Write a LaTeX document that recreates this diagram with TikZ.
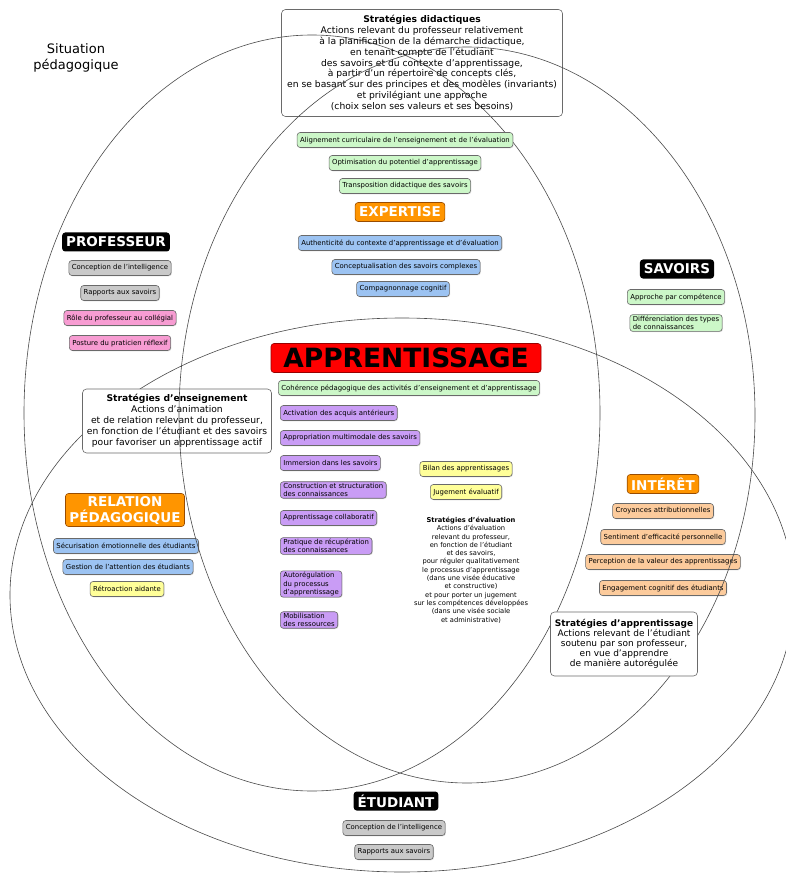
\documentclass[tikz,border=0pt]{standalone}
\usepackage{fontspec}
\setmainfont{DejaVu Sans}
\usetikzlibrary{shadows}

\definecolor{bord}{HTML}{6A6A6A}
\definecolor{ligne}{HTML}{4A4A4A}
\definecolor{vertclair}{HTML}{CCF7C8}
\definecolor{bleuclair}{HTML}{9CC3F2}
\definecolor{grisclair}{HTML}{C9C9C9}
\definecolor{roseclair}{HTML}{F79CD2}
\definecolor{violetclair}{HTML}{C99CF5}
\definecolor{jauneclair}{HTML}{FFFF99}
\definecolor{peche}{HTML}{FCCB9C}
\definecolor{orangevif}{HTML}{FF9500}

\tikzset{
  boite/.style={draw=bord, rounded corners=3pt, line width=0.6pt,
    font=\fontsize{6.9}{8.2}\selectfont, inner xsep=3pt, inner ysep=1.5pt,
    minimum height=15pt, drop shadow={opacity=0.25, shadow xshift=0.8pt, shadow yshift=-0.8pt}},
  vert/.style={boite, fill=vertclair},
  bleu/.style={boite, fill=bleuclair},
  gris/.style={boite, fill=grisclair},
  rose/.style={boite, fill=roseclair},
  violet/.style={boite, fill=violetclair, anchor=west, align=left},
  jaune/.style={boite, fill=jauneclair},
  peche/.style={boite, fill=peche},
  entete/.style={rounded corners=3pt, fill=black, text=white,
    font=\fontsize{13.5}{16}\selectfont\bfseries, inner xsep=4pt, inner ysep=2.5pt,
    minimum height=19pt},
  pole/.style={entete, fill=orangevif, draw=orange!60!black, line width=0.6pt, align=center},
  strategie/.style={draw=bord, rounded corners=4pt, line width=0.6pt, align=center,
    font=\fontsize{9.2}{10.9}\selectfont, inner sep=2pt},
  cercle/.style={draw=ligne, line width=0.6pt}
}

\begin{document}
\begin{tikzpicture}[x=1pt,y=-1pt]
\useasboundingbox (0,0) rectangle (785,874);

% Ensembles
\draw[cercle] (312,413) ellipse [x radius=288, y radius=378];
\draw[cercle] (402,595) ellipse [x radius=392, y radius=277];

\node[font=\fontsize{13}{16}\selectfont, align=center] (situation) at (76,58) {Situation\\pédagogique};

% Strategies
\node[strategie, minimum width=281pt, minimum height=107pt] (didactique) at (422,63)
  {\textbf{Stratégies didactiques}\\
   Actions relevant du professeur relativement\\
   à la planification de la démarche didactique,\\
   en tenant compte de l’étudiant\\
   des savoirs et du contexte d’apprentissage,\\
   à partir d’un répertoire de concepts clés,\\
   en se basant sur des principes et des modèles (invariants)\\
   et privilégiant une approche\\
   (choix selon ses valeurs et ses besoins)};
\node[strategie, fill=white, minimum width=189pt, minimum height=64pt] (enseignement) at (177,421)
  {\textbf{Stratégies d’enseignement}\\
   Actions d’animation\\
   et de relation relevant du professeur,\\
   en fonction de l’étudiant et des savoirs\\
   pour favoriser un apprentissage actif};

% Professeur
\node[entete] (professeur) at (116,242) {PROFESSEUR};
\node[gris] (prof1) at (120,268) {Conception de l’intelligence};
\node[gris] (prof2) at (120,293) {Rapports aux savoirs};
\node[rose] (prof3) at (120,318) {Rôle du professeur au collégial};
\node[rose] (prof4) at (120,343) {Posture du praticien réflexif};

% Savoirs
\node[entete] (savoirs) at (677,269) {SAVOIRS};
\node[vert] (sav1) at (676,297) {Approche par compétence};
\node[vert, align=left] (sav2) at (676,323) {Différenciation des types\\de connaissances};

% Expertise
\node[vert] (exp1) at (405,140) {Alignement curriculaire de l’enseignement et de l’évaluation};
\node[vert] (exp2) at (405,163) {Optimisation du potentiel d’apprentissage};
\node[vert] (exp3) at (405,186) {Transposition didactique des savoirs};
\node[pole] (expertise) at (400,212) {EXPERTISE};
\node[bleu] (exp4) at (400,243) {Authenticité du contexte d’apprentissage et d’évaluation};
\node[bleu] (exp5) at (406,267) {Conceptualisation des savoirs complexes};
\node[bleu] (exp6) at (403,289) {Compagnonnage cognitif};

% Apprentissage
\node[draw=red!60!black, line width=0.6pt, fill=red, rounded corners=3pt,
  font=\fontsize{26.5}{26.5}\selectfont\bfseries, minimum width=270pt, minimum height=29pt,
  inner sep=0pt] (apprentissage) at (406,358) {APPRENTISSAGE};
\node[vert] (coherence) at (409,388) {Cohérence pédagogique des activités d’enseignement et d’apprentissage};
\node[violet] (app1) at (280,413) {Activation des acquis antérieurs};
\node[violet] (app2) at (280,438) {Appropriation multimodale des savoirs};
\node[violet] (app3) at (280,463) {Immersion dans les savoirs};
\node[violet] (app4) at (280,490) {Construction et structuration\\des connaissances};
\node[violet] (app5) at (280,518) {Apprentissage collaboratif};
\node[violet] (app6) at (280,546) {Pratique de récupération\\des connaissances};
\node[violet] (app7) at (280,584) {Autorégulation\\du processus\\d’apprentissage};
\node[violet] (app8) at (280,620) {Mobilisation\\des ressources};
\node[jaune] (bilan) at (466,469) {Bilan des apprentissages};
\node[jaune] (jugement) at (466,492) {Jugement évaluatif};
\node[font=\fontsize{6.7}{8.3}\selectfont, align=center] (evaluation) at (471,570)
  {\textbf{Stratégies d’évaluation}\\
   Actions d’évaluation\\
   relevant du professeur,\\
   en fonction de l’étudiant\\
   et des savoirs,\\
   pour réguler qualitativement\\
   le processus d’apprentissage\\
   (dans une visée éducative\\
   et constructive)\\
   et pour porter un jugement\\
   sur les compétences développées\\
   (dans une visée sociale\\
   et administrative)};

% Relation pedagogique
\node[pole] (relation) at (125,510) {RELATION\\PÉDAGOGIQUE};
\node[bleu] (rel1) at (126,546) {Sécurisation émotionnelle des étudiants};
\node[bleu] (rel2) at (128,567) {Gestion de l’attention des étudiants};
\node[jaune] (rel3) at (127,589) {Rétroaction aidante};

% Interet
\node[pole] (interet) at (663,484) {INTÉRÊT};
\node[peche] (int1) at (663,511) {Croyances attributionnelles};
\node[peche] (int2) at (663,537) {Sentiment d’efficacité personnelle};
\node[peche] (int3) at (663,562) {Perception de la valeur des apprentissages};
\node[peche] (int4) at (663,588) {Engagement cognitif des étudiants};

% Etudiant
\node[entete] (etudiant) at (396,801) {ÉTUDIANT};
\node[gris] (etud1) at (394,828) {Conception de l’intelligence};
\node[gris] (etud2) at (394,852) {Rapports aux savoirs};

\draw[cercle] (467,415) ellipse [x radius=288, y radius=368];

\node[strategie, fill=white, font=\fontsize{9}{9.9}\selectfont, minimum width=147pt,
  minimum height=64pt] (apprstrat) at (624,644)
  {\textbf{Stratégies d’apprentissage}\\
   Actions relevant de l’étudiant\\
   soutenu par son professeur,\\
   en vue d’apprendre\\
   de manière autorégulée};
\end{tikzpicture}
\end{document}
